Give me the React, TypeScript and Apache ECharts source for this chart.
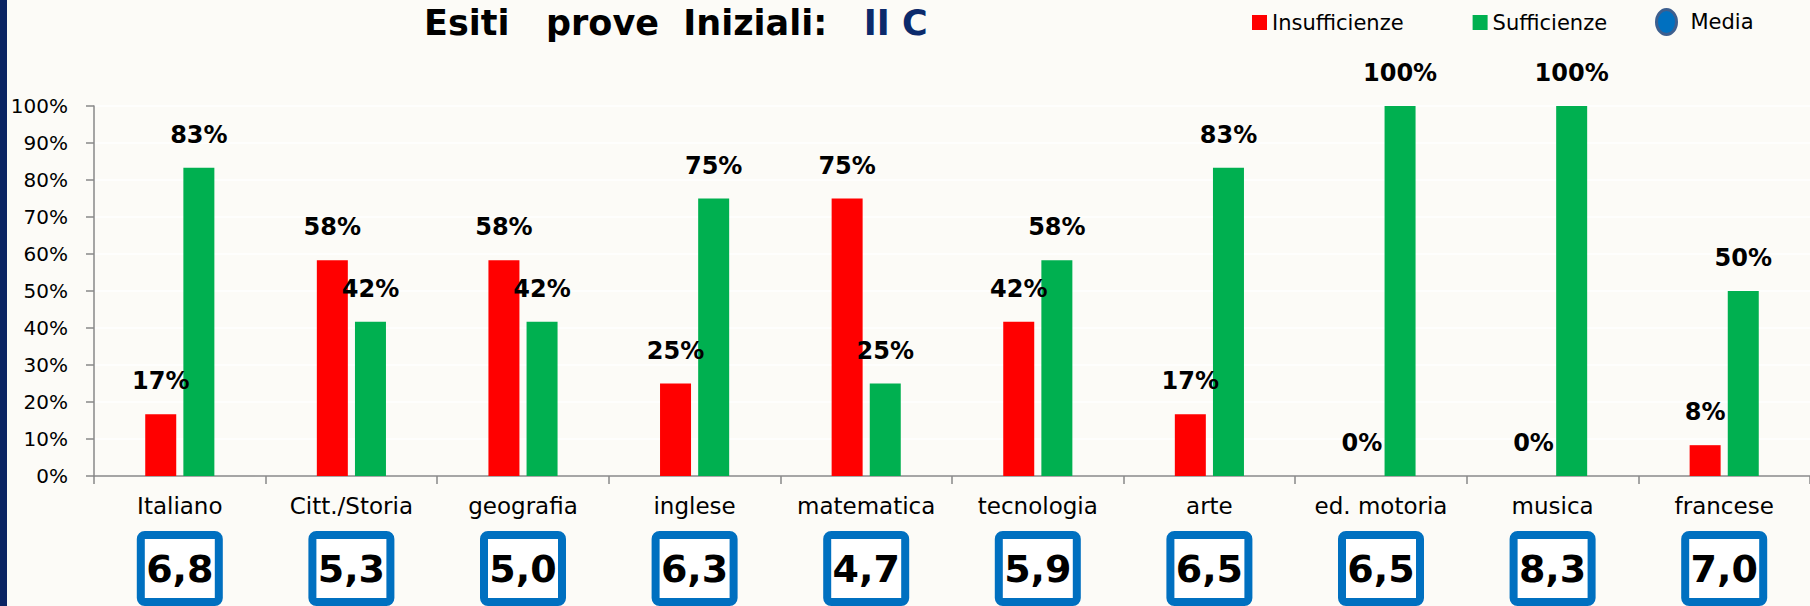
import React, { useEffect, useRef } from "react";
import * as echarts from "echarts";

const categories = ["Italiano", "Citt./Storia", "geografia", "inglese", "matematica", "tecnologia", "arte", "ed. motoria", "musica", "francese"];
const insufficienze = [16.67, 58.33, 58.33, 25, 75, 41.67, 16.67, 0, 0, 8.33];
const sufficienze = [83.33, 41.67, 41.67, 75, 25, 58.33, 83.33, 100, 100, 50];
const medie = [6.8, 5.3, 5.0, 6.3, 4.7, 5.9, 6.5, 6.5, 8.3, 7.0];

const FONT = "DejaVu Sans";

export default function App() {
  const ref = useRef<HTMLDivElement>(null);
  useEffect(() => {
    if (!ref.current) return;
    const chart = echarts.init(ref.current, undefined, { renderer: "svg" });
    const barLabel = {
      show: true,
      position: "top",
      distance: 21,
      formatter: (p: any) => Math.round(p.value) + "%",
      fontFamily: FONT,
      fontWeight: "bold",
      fontSize: 24,
      color: "#000",
    };
    chart.setOption({
      animation: false,
      backgroundColor: "#fcfbf7",
      title: {
        text: "{a|Esiti   prove  Iniziali:}{b|   II C}",
        left: 419,
        top: 0,
        textStyle: {
          rich: {
            a: { fontFamily: FONT, fontWeight: "bold", fontSize: 35, color: "#000" },
            b: { fontFamily: FONT, fontWeight: "bold", fontSize: 35, color: "#0b2a6b" },
          },
        },
      },
      legend: [
        {
          data: ["Insufficienze", "Sufficienze"],
          left: 1247,
          top: 7,
          icon: "rect",
          itemWidth: 15,
          itemHeight: 15,
          itemGap: 69,
          textStyle: { fontFamily: FONT, fontSize: 21, color: "#000" },
        },
        {
          data: [
            {
              name: "Media",
              icon: "path://M10,0 A10,12.5 0 1,1 10,25 A10,12.5 0 1,1 10,0 Z",
              itemStyle: { color: "#0070c0", borderColor: "#3d5f8f", borderWidth: 3 },
            },
          ],
          left: 1650,
          top: 3,
          itemWidth: 20,
          itemHeight: 25,
          textStyle: { fontFamily: FONT, fontSize: 21, color: "#000", padding: [0, 0, 0, 9] },
        },
      ],
      graphic: [
        { type: "rect", left: 0, top: 0, shape: { width: 7, height: 606 }, style: { fill: "#0b2463" } },
      ],
      grid: { left: 94, right: -6, top: 106, bottom: 130, containLabel: false },
      xAxis: {
        type: "category",
        data: categories,
        axisLine: { show: true, lineStyle: { color: "#888888", width: 1.5 } },
        axisTick: { show: true, length: 8, lineStyle: { color: "#888888", width: 1.5 } },
        axisLabel: { margin: 18, fontFamily: FONT, fontSize: 23, color: "#000", interval: 0 },
      },
      yAxis: {
        type: "value",
        min: 0,
        max: 100,
        interval: 10,
        axisLine: { show: true, lineStyle: { color: "#888888", width: 1.5 } },
        axisTick: { show: true, length: 8, lineStyle: { color: "#888888", width: 1.5 } },
        axisLabel: { formatter: "{value}%", margin: 26, fontFamily: FONT, fontSize: 20, color: "#000" },
        splitLine: { show: true, lineStyle: { color: "#ffffff", width: 1.5 } },
      },
      series: [
        {
          name: "Insufficienze",
          type: "bar",
          data: insufficienze,
          barWidth: 31,
          barGap: "23%",
          itemStyle: { color: "#ff0000" },
          label: barLabel,
        },
        {
          name: "Sufficienze",
          type: "bar",
          data: sufficienze,
          barWidth: 31,
          barGap: "23%",
          itemStyle: { color: "#00b050" },
          label: barLabel,
        },
        {
          name: "Media",
          type: "custom",
          clip: false,
          itemStyle: { color: "#0070c0" },
          data: medie.map((m, i) => [i, 0, m]),
          encode: { x: 0, y: 1 },
          renderItem: (params: any, api: any) => {
            const p = api.coord([api.value(0), 0]);
            const cx = p[0];
            const top = p[1] + 59;
            const val = Number(api.value(2)).toFixed(1).replace(".", ",");
            return {
              type: "group",
              children: [
                {
                  type: "rect",
                  shape: { x: cx - 39, y: top, width: 78, height: 67, r: 4 },
                  style: { fill: "#ffffff", stroke: "#0070c0", lineWidth: 8 },
                },
                {
                  type: "text",
                  style: {
                    text: val,
                    x: cx,
                    y: top + 33.5,
                    align: "center",
                    verticalAlign: "middle",
                    fontFamily: FONT,
                    fontWeight: "bold",
                    fontSize: 38,
                    fill: "#000",
                  },
                },
              ],
            };
          },
        },
      ],
    });
    return () => chart.dispose();
  }, []);
  return <div ref={ref} style={{ position: "fixed", left: 0, top: 0, width: 1810, height: 606 }} />;
}
